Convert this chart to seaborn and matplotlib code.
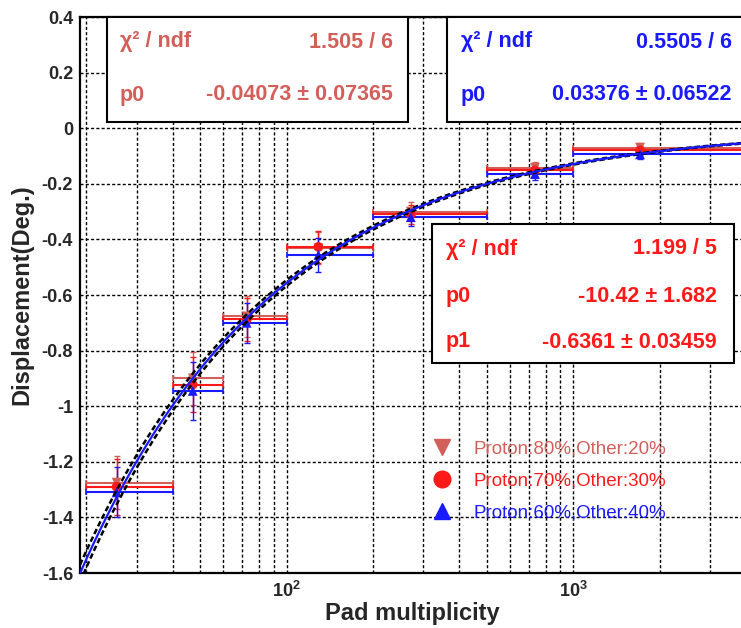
import numpy as np
import pandas as pd
import matplotlib
matplotlib.use("Agg")
import matplotlib.pyplot as plt
import seaborn as sns
from matplotlib.ticker import FixedLocator, NullFormatter
from matplotlib.lines import Line2D
from matplotlib.patches import Rectangle

# ---------------- data ----------------
bin_center = [25.5, 47.0, 72.5, 129.0, 271.0, 735.0, 1709.0]
bin_low = [20, 40, 60, 100, 200, 500, 1000]
bin_high = [40, 60, 100, 200, 500, 1000, 5000]

y_80 = [-1.275, -0.900, -0.677, -0.432, -0.300, -0.142, -0.070]
err_80 = [0.095, 0.095, 0.075, 0.057, 0.035, 0.020, 0.015]
y_70 = [-1.290, -0.922, -0.688, -0.427, -0.310, -0.152, -0.080]
err_70 = [0.100, 0.100, 0.078, 0.058, 0.035, 0.020, 0.015]
y_60 = [-1.310, -0.945, -0.700, -0.456, -0.320, -0.165, -0.094]
err_60 = [0.090, 0.105, 0.072, 0.061, 0.033, 0.020, 0.015]

series_labels = ["Proton:80%,Other:20%", "Proton:70%,Other:30%", "Proton:60%,Other:40%"]
series_colors = ["#d25f5a", "#ff1a1a", "#1a1aff"]
series_markers = ["v", "o", "^"]

fit_p0 = -10.42
fit_p1 = -0.6361
band_p0 = [-10.22, -10.62]

x_limits = [19, 3973]
y_limits = [-1.6, 0.4]
y_ticks = [-1.6, -1.4, -1.2, -1.0, -0.8, -0.6, -0.4, -0.2, 0.0, 0.2, 0.4]
x_major = [100, 1000]
x_major_labels = [r"$10^{2}$", r"$10^{3}$"]
x_minor = [20, 30, 40, 50, 60, 70, 80, 90, 200, 300, 400, 500, 600, 700, 800, 900, 2000, 3000]

stat_boxes = [
    {"color": "#d25f5a", "rows": [("χ² / ndf", "1.505 / 6"), ("p0", "-0.04073 ± 0.07365")]},
    {"color": "#1a1aff", "rows": [("χ² / ndf", "0.5505 / 6"), ("p0", "0.03376 ± 0.06522")]},
    {"color": "#ff1a1a", "rows": [("χ² / ndf", "1.199 / 5"), ("p0", "-10.42 ± 1.682"), ("p1", "-0.6361 ± 0.03459")]},
]

# ---------------- style ----------------
sns.set_style("white")
plt.rcParams["font.family"] = ["Liberation Sans", "DejaVu Sans"]
plt.rcParams["mathtext.fontset"] = "custom"
plt.rcParams["mathtext.rm"] = "Liberation Sans:bold"
plt.rcParams["mathtext.it"] = "Liberation Sans:bold"
plt.rcParams["mathtext.bf"] = "Liberation Sans:bold"
plt.rcParams["mathtext.default"] = "rm"

W, H = 741, 628
fig = plt.figure(figsize=(W / 100, H / 100), dpi=100)
fig.patch.set_facecolor("white")

def fx(px):
    return px / W

def fy(py):
    return 1 - py / H

ax_left, ax_right, ax_top, ax_bot = 80, 745, 17, 573
ax = fig.add_axes([fx(ax_left), fy(ax_bot), (ax_right - ax_left) / W, (ax_bot - ax_top) / H])
ax.set_facecolor("white")
ax.set_xscale("log")
ax.set_xlim(*x_limits)
ax.set_ylim(*y_limits)

# grid
grid_ls = (0, (2.2, 1.6))
ax.set_axisbelow(True)
ax.xaxis.set_major_locator(FixedLocator(x_major))
ax.xaxis.set_minor_locator(FixedLocator(x_minor))
ax.xaxis.set_minor_formatter(NullFormatter())
ax.set_xticklabels(x_major_labels)
ax.set_yticks(y_ticks)
ax.set_yticklabels([f"{(round(v, 1) + 0.0):g}" for v in y_ticks])
ax.yaxis.set_minor_locator(FixedLocator(np.round(np.arange(-1.6, 0.41, 0.04), 2)))
ax.xaxis.grid(True, which="both", color="black", linestyle=grid_ls, linewidth=1.0)
ax.yaxis.grid(True, which="major", color="black", linestyle=grid_ls, linewidth=1.0)

ax.tick_params(axis="both", which="major", direction="in", length=14, width=1.4, color="black")
ax.tick_params(axis="both", which="minor", direction="in", length=7, width=1.2, color="black")
ax.tick_params(axis="y", which="major", labelsize=13, pad=5)
ax.tick_params(axis="x", which="major", labelsize=13, pad=6)
for lab in ax.get_yticklabels():
    lab.set_fontweight("bold")
ax.tick_params(top=False, right=False)
for s in ax.spines.values():
    s.set_linewidth(1.6)
    s.set_color("black")

# ---------------- data points ----------------
rows = []
for lab, ys in zip(series_labels, [y_80, y_70, y_60]):
    for xc, yv in zip(bin_center, ys):
        rows.append({"x": xc, "y": yv, "series": lab})
df = pd.DataFrame(rows)

for lab, ys, es, col in zip(series_labels, [y_80, y_70, y_60], [err_80, err_70, err_60], series_colors):
    xc = np.array(bin_center)
    xerr = [xc - np.array(bin_low), np.array(bin_high) - xc]
    ax.errorbar(xc, ys, xerr=xerr, fmt="none", ecolor=col, elinewidth=1.5, capsize=2.5, capthick=1.2, zorder=3)
    ax.errorbar(xc, ys, yerr=es, fmt="none", ecolor=col, elinewidth=1.0, capsize=2.5, capthick=1.0, zorder=3)

sns.scatterplot(data=df, x="x", y="y", hue="series", style="series",
                palette=dict(zip(series_labels, series_colors)),
                markers=dict(zip(series_labels, series_markers)),
                s=50, linewidth=0, legend=False, ax=ax, zorder=4)

# ---------------- fit curves ----------------
xs = np.geomspace(x_limits[0], x_limits[1], 400)
for p0 in band_p0:
    sns.lineplot(x=xs, y=p0 * xs ** fit_p1, ax=ax, color="black", linewidth=1.8,
                 linestyle=(0, (2.2, 1.2)), zorder=5)
sns.lineplot(x=xs, y=fit_p0 * xs ** fit_p1, ax=ax, color="#1a1aff", linewidth=1.6, zorder=6)

# ---------------- labels ----------------
ax.set_xlabel("Pad multiplicity", fontsize=17, fontweight="bold")
ax.set_ylabel("Displacement(Deg.)", fontsize=17, fontweight="bold")
ax.xaxis.set_label_coords(0.5, (ax_bot - 602) / (ax_bot - ax_top))
ax.yaxis.set_label_coords((33 - ax_left) / (ax_right - ax_left), 0.5)

# ---------------- legend ----------------
handles = [Line2D([], [], linestyle="none", marker=m, color=c, markersize=12)
           for m, c in zip(series_markers, series_colors)]
ax.legend(handles, series_labels, loc="center left",
          bbox_to_anchor=(fx(433), fy(481)), bbox_transform=fig.transFigure,
          frameon=False, handlelength=1.0, handletextpad=1.15, borderpad=0,
          borderaxespad=0, labelspacing=0.78, fontsize=13.5,
          labelcolor=series_colors)

# ---------------- stat boxes ----------------
box_geom = [
    {"rect": (107, 17, 408, 122), "left": 120, "right": 393, "rows_y": [42, 95]},
    {"rect": (447, 17, 800, 122), "left": 461, "right": 732, "rows_y": [42, 95]},
    {"rect": (432, 224, 734, 363), "left": 446, "right": 717, "rows_y": [249, 297, 342]},
]
for box, geo in zip(stat_boxes, box_geom):
    x0, y0, x1, y1 = geo["rect"]
    rect = Rectangle((fx(x0), fy(y1)), (x1 - x0) / W, (y1 - y0) / H, transform=fig.transFigure,
                     facecolor="white", edgecolor="black", linewidth=1.5, zorder=10)
    fig.add_artist(rect)
    for (name, val), ry in zip(box["rows"], geo["rows_y"]):
        fig.text(fx(geo["left"]), fy(ry), name, color=box["color"], fontsize=15.5,
                 fontweight="bold", ha="left", va="center", zorder=11)
        fig.text(fx(geo["right"]), fy(ry), val, color=box["color"], fontsize=15.5,
                 fontweight="bold", ha="right", va="center", zorder=11)

fig.savefig("out.png", dpi=100)
